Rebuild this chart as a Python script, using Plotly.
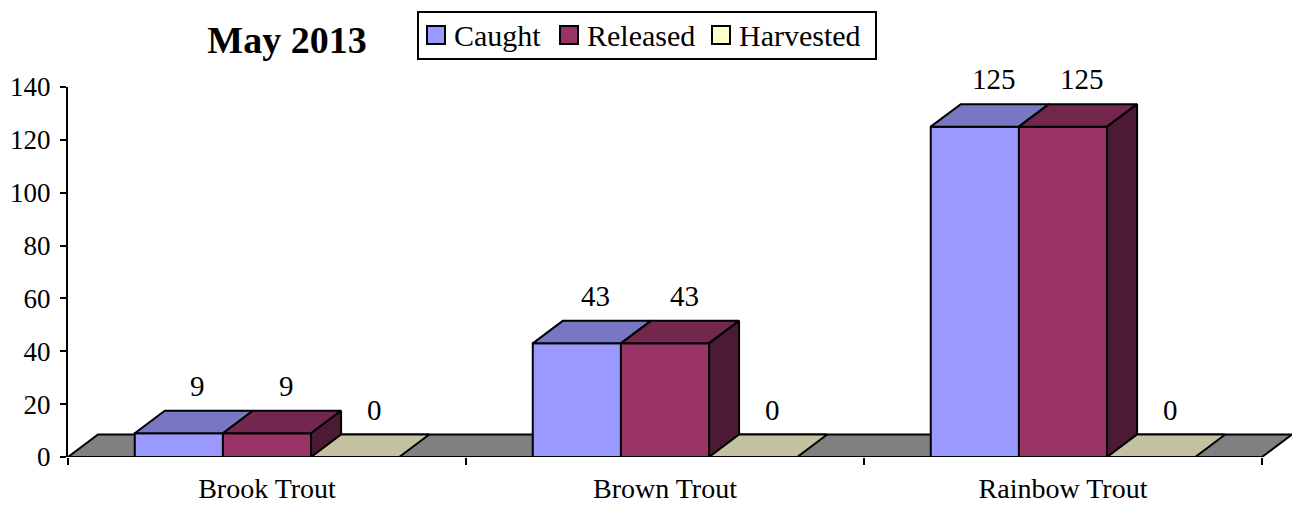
import plotly.graph_objects as go

# ---- data ----
species = ["Brook Trout", "Brown Trout", "Rainbow Trout"]
series_names = ["Caught", "Released", "Harvested"]
caught = [9, 43, 125]
released = [9, 43, 125]
harvested = [0, 0, 0]
y_tick_values = [0, 20, 40, 60, 80, 100, 120, 140]

series_values = [caught, released, harvested]

# ---- styling ----
front_colors = ["#9999FF", "#993366", "#FFFFCC"]
top_colors = ["#7777C4", "#74274E", "#C2C2A0"]
side_colors = ["#4C4C80", "#4D1A33", "#80805F"]
floor_color = "#808080"
FONT = "Liberation Serif"

# ---- page geometry (px) ----
W, H = 1297, 506
M_L, M_R, M_T, M_B = 68, 5, 87, 49
DEPTH_X_PX, DEPTH_Y_PX = 30, 22.5
plot_w = W - M_L - M_R
plot_h = H - M_T - M_B

n_cat = len(species)
px_per_x = (plot_w - DEPTH_X_PX) / n_cat
y_max = 140
px_per_y = plot_h / y_max

dx = DEPTH_X_PX / px_per_x          # depth offset in x data units
dy = DEPTH_Y_PX / px_per_y          # depth offset in y data units
x_lo, x_hi = -0.5, n_cat - 0.5
bar_w = 0.2215
offsets = [(s - 1) * bar_w for s in range(len(series_names))]

fig = go.Figure()

# front faces
for s, name in enumerate(series_names):
    fig.add_trace(go.Bar(
        x=[i + offsets[s] for i in range(n_cat)],
        y=series_values[s],
        width=bar_w,
        name=name,
        marker=dict(color=front_colors[s], line=dict(color="black", width=2)),
        showlegend=False,
        hovertemplate=name + ": %{y}<extra></extra>",
    ))

def poly(xs, ys, color):
    fig.add_trace(go.Scatter(
        x=xs + [xs[0]], y=ys + [ys[0]], mode="lines", fill="toself",
        fillcolor=color, line=dict(color="black", width=2),
        showlegend=False, hoverinfo="skip",
    ))

# top and side faces, painted left to right within each cluster
for i in range(n_cat):
    for s in range(len(series_names)):
        v = series_values[s][i]
        v_next = series_values[s + 1][i] if s + 1 < len(series_names) else 0
        L = i + offsets[s] - bar_w / 2
        R = L + bar_w
        if v_next > v:
            poly([L, R, R, L + dx], [v, v, v + dy, v + dy], top_colors[s])
        else:
            poly([L, R, R + dx, L + dx], [v, v, v + dy, v + dy], top_colors[s])
        if v > v_next:
            poly([R, R + dx, R + dx, R], [v_next, v_next + dy, v + dy, v], side_colors[s])

# value labels above each bar's back edge
annotations = []
for s in range(len(series_names)):
    for i in range(n_cat):
        v = series_values[s][i]
        annotations.append(dict(
            x=i + offsets[s] + dx / 2 + 4 / px_per_x, y=v + dy,
            text=str(v), showarrow=False, yanchor="middle", yshift=25,
            font=dict(family=FONT, size=29, color="black"),
        ))

# legend drawn as a boxed row of swatches and labels
def px_to_paper(px, py):
    return (px - M_L) / plot_w, (H - M_B - py) / plot_h

shapes = []
bx0, by0 = px_to_paper(418, 12)
bx1, by1 = px_to_paper(876, 59)
shapes.append(dict(type="rect", xref="paper", yref="paper", x0=bx0, y0=by1, x1=bx1, y1=by0,
                   line=dict(color="black", width=2), fillcolor="white"))
legend_swatch_px = [427, 560, 712]
for s, name in enumerate(series_names):
    sx0, sy0 = px_to_paper(legend_swatch_px[s], 26)
    sx1, sy1 = px_to_paper(legend_swatch_px[s] + 18, 44)
    shapes.append(dict(type="rect", xref="paper", yref="paper", x0=sx0, y0=sy1, x1=sx1, y1=sy0,
                       line=dict(color="black", width=2), fillcolor=front_colors[s]))
    tx, ty = px_to_paper(legend_swatch_px[s] + 25, 35)
    annotations.append(dict(x=tx, y=ty, xref="paper", yref="paper", text=name,
                            showarrow=False, xanchor="left", yanchor="middle",
                            font=dict(family=FONT, size=30, color="black")))

# floor under the bars
shapes.append(dict(
    type="path", layer="below", xref="x", yref="y",
    path=f"M{x_lo},0 L{x_hi},0 L{x_hi + dx},{dy} L{x_lo + dx},{dy} Z",
    fillcolor=floor_color, line=dict(color="black", width=2),
))

tx, ty = 287 / W, 1 - 40 / H
fig.update_layout(
    width=W, height=H,
    margin=dict(l=M_L, r=M_R, t=M_T, b=M_B, autoexpand=False),
    paper_bgcolor="white", plot_bgcolor="white",
    barmode="overlay",
    showlegend=False,
    title=dict(text="<b>May 2013</b>", x=tx, y=ty, xanchor="center", yanchor="middle",
               xref="container", yref="container", automargin=False,
               font=dict(family=FONT, size=38, color="black")),
    xaxis=dict(
        range=[x_lo, x_hi + dx], showgrid=False, zeroline=False, showline=False,
        automargin=False,
        tickvals=list(range(n_cat)), ticktext=species, ticks="",
        tickfont=dict(family=FONT, size=28, color="black"),
        ticklabelstandoff=12,
        minor=dict(tickvals=[k - 0.5 for k in range(n_cat + 1)], ticks="outside",
                   ticklen=7, tickwidth=2, tickcolor="black"),
    ),
    yaxis=dict(
        range=[0, y_max], showgrid=False, zeroline=False, automargin=False,
        showline=True, linecolor="black", linewidth=2,
        tickvals=y_tick_values, ticks="outside", ticklen=6, tickwidth=2, tickcolor="black",
        tickfont=dict(family=FONT, size=27, color="black"),
        ticklabelstandoff=4,
    ),
    shapes=shapes,
    annotations=annotations,
)

fig.write_html("out.html")
